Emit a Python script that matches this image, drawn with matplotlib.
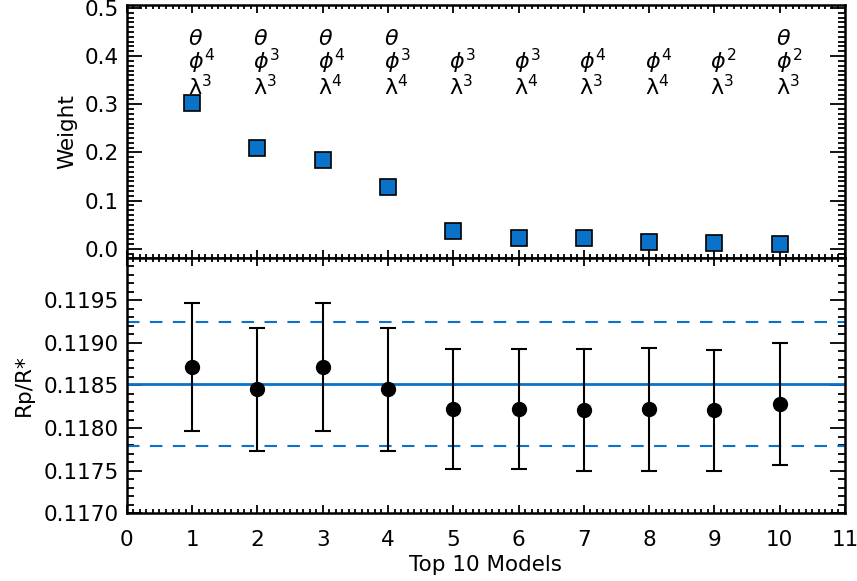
import matplotlib.pyplot as plt
from matplotlib.ticker import MultipleLocator

# Weights of the top 10 models
models = [1, 2, 3, 4, 5, 6, 7, 8, 9, 10]
weights = [0.3035, 0.209, 0.185, 0.129, 0.036, 0.022, 0.022, 0.014, 0.0125, 0.0098]

# Model terms shown above each square
has_theta = [True, True, True, True, False, False, False, False, False, True]
phi_pow = [4, 3, 4, 3, 3, 3, 4, 4, 2, 2]
lam_pow = [3, 3, 4, 4, 3, 4, 3, 4, 3, 3]

# Rp/R* per model with errors
rp = [0.118716, 0.118453, 0.118716, 0.118453, 0.118225, 0.118225, 0.118213, 0.11822, 0.11821, 0.11828]
rp_err = [0.00075, 0.00072, 0.00075, 0.00072, 0.00071, 0.00071, 0.00072, 0.00072, 0.00071, 0.00072]

# weighted mean and its uncertainty
rp_mean = 0.118515
rp_mean_err = 0.00073

blue = "#0a72c8"
fs = 15.5

fig = plt.figure(figsize=(8.57, 5.81), dpi=100)
ax1 = fig.add_axes([0.148, 0.556, 0.838, 0.4354])
ax2 = fig.add_axes([0.148, 0.117, 0.838, 0.439])

# Top panel: weights
ax1.plot(models, weights, linestyle="none", marker="s", markersize=11,
         markerfacecolor=blue, markeredgecolor="black", markeredgewidth=1.2)
for m, t, p, l in zip(models, has_theta, phi_pow, lam_pow):
    lines = [r"$\phi^{%d}$" % p, "λ$^{%d}$" % l]
    if t:
        lines.insert(0, r"$\theta$")
    ax1.text(m + 0.14, 0.310, "\n".join(lines), ha="center", va="bottom",
             multialignment="left", fontsize=16, linespacing=0.9)
ax1.set_xlim(0, 11)
ax1.set_ylim(-0.019, 0.506)
ax1.set_ylabel("Weight", fontsize=fs, labelpad=5)
ax1.yaxis.set_minor_locator(MultipleLocator(0.01))
ax1.set_yticks([0.0, 0.1, 0.2, 0.3, 0.4, 0.5])
ax1.set_yticklabels(["0.0", "0.1", "0.2", "0.3", "0.4", "0.5"])
ax1.tick_params(labelbottom=False)

# Bottom panel: Rp/R*
ax2.axhline(rp_mean, color=blue, linewidth=2)
ax2.axhline(rp_mean + rp_mean_err, color=blue, linewidth=1.5, linestyle=(0, (6, 5)))
ax2.axhline(rp_mean - rp_mean_err, color=blue, linewidth=1.5, linestyle=(0, (6, 5)))
ax2.errorbar(models, rp, yerr=rp_err, fmt="o", color="black", markersize=10,
             elinewidth=1.5, capsize=6, capthick=1.5)
ax2.set_xlim(0, 11)
ax2.set_ylim(0.1170, 0.1200)
ax2.set_yticks([0.1170, 0.1175, 0.1180, 0.1185, 0.1190, 0.1195])
ax2.set_yticklabels(["0.1170", "0.1175", "0.1180", "0.1185", "0.1190", "0.1195"])
ax2.yaxis.set_minor_locator(MultipleLocator(0.0001))
ax2.set_xlabel("Top 10 Models", fontsize=fs, labelpad=4)
ax2.set_ylabel("Rp/R*", fontsize=fs, labelpad=7)

for ax in (ax1, ax2):
    ax.xaxis.set_major_locator(MultipleLocator(1))
    ax.xaxis.set_minor_locator(MultipleLocator(0.1))
    ax.tick_params(which="both", direction="in", top=True, right=True, width=1.3, labelsize=fs)
    ax.tick_params(axis="y", which="major", length=11, pad=6)
    ax.tick_params(axis="y", which="minor", length=5)
    ax.tick_params(axis="x", which="major", length=6, pad=12)
    ax.tick_params(axis="x", which="minor", length=3)
    for s in ax.spines.values():
        s.set_linewidth(1.8)

fig.savefig("out.png", dpi=100)
